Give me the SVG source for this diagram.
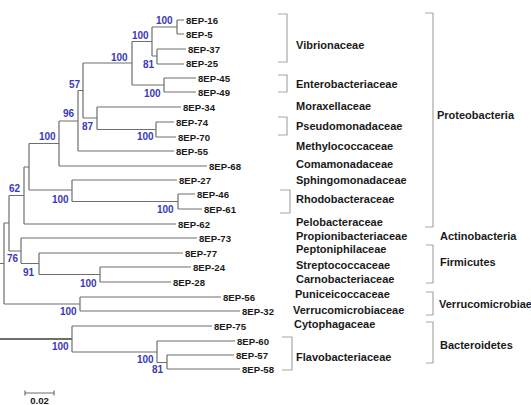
<svg xmlns="http://www.w3.org/2000/svg" width="531" height="405" viewBox="0 0 531 405">
<style>
.t{font-family:"Liberation Sans",Arial,sans-serif;font-weight:bold;font-size:9.6px;fill:#1a1a1a}
.b{font-family:"Liberation Sans",Arial,sans-serif;font-weight:bold;font-size:10px;fill:#3a3ab8}
.f{font-family:"Liberation Sans",Arial,sans-serif;font-weight:bold;font-size:11px;fill:#1a1a1a}
.tree{fill:none;stroke:#6e6e6e;stroke-width:1.2}
.br{fill:none;stroke:#a8a8a8;stroke-width:1.2}
</style>
<rect width="531" height="405" fill="#ffffff"/>
<g id="connectors" class="tree">
<path d="M177,20V34M177,20H184M177,34H184"/>
<path d="M157,49V64M157,49H186M157,64H184"/>
<path d="M152,27V56M152,27H177M152,56H157"/>
<path d="M164,78V92M164,78H196M164,92H196"/>
<path d="M132,41.5V85M132,41.5H152M132,85H164"/>
<path d="M83,63V118M83,63H132M83,118H97"/>
<path d="M156,122V137M156,122H174M156,137H176"/>
<path d="M97,107V129.5M97,107H181M97,129.5H156"/>
<path d="M78,90.5V151M78,90.5H83M78,151H174"/>
<path d="M59,121V166M59,121H78M59,166H207"/>
<path d="M178,194V209M178,194H195M178,209H202"/>
<path d="M72,180V201.5M72,180H177M72,201.5H178"/>
<path d="M29,143.5V190M29,143.5H59M29,190H72"/>
<path d="M24,167V224M24,167H29M24,224H176"/>
<path d="M9,195.5V251M9,195.5H24M9,251H21"/>
<path d="M100,267V282M100,267H191M100,282H171"/>
<path d="M39,253V274.5M39,253H183M39,274.5H100"/>
<path d="M21,238V263.5M21,238H197M21,263.5H39"/>
<path d="M80,297V311M80,297H221M80,311H240"/>
<path d="M4,223V304M4,223H9M4,304H80M0,263.5H4"/>
<path d="M167,355V369M167,355H234M167,369H240"/>
<path d="M157,341V362.5M157,341H235M157,362.5H167"/>
<path d="M72,326V352M72,326H212M72,352H157"/>
<path d="M0,339H72" stroke-width="2"/>
</g>
<g id="tips">
<g id="n16"><text class="t" x="186" y="23.5">8EP-16</text></g>
<g id="n5"><text class="t" x="186" y="37.5">8EP-5</text></g>
<g id="n37"><text class="t" x="188" y="52.5">8EP-37</text></g>
<g id="n25"><text class="t" x="186" y="67">8EP-25</text></g>
<g id="n45"><text class="t" x="198" y="81.5">8EP-45</text></g>
<g id="n49"><text class="t" x="198" y="95.5">8EP-49</text></g>
<g id="n34"><text class="t" x="183" y="110.5">8EP-34</text></g>
<g id="n74"><text class="t" x="176" y="125.5">8EP-74</text></g>
<g id="n70"><text class="t" x="178" y="140.5">8EP-70</text></g>
<g id="n55"><text class="t" x="176" y="154.5">8EP-55</text></g>
<g id="n68"><text class="t" x="209" y="169.5">8EP-68</text></g>
<g id="n27"><text class="t" x="179" y="183.5">8EP-27</text></g>
<g id="n46"><text class="t" x="197" y="197.5">8EP-46</text></g>
<g id="n61"><text class="t" x="204" y="212.5">8EP-61</text></g>
<g id="n62"><text class="t" x="178" y="227.5">8EP-62</text></g>
<g id="n73"><text class="t" x="199" y="241.5">8EP-73</text></g>
<g id="n77"><text class="t" x="185" y="256.5">8EP-77</text></g>
<g id="n24"><text class="t" x="193" y="270.5">8EP-24</text></g>
<g id="n28"><text class="t" x="173" y="285.5">8EP-28</text></g>
<g id="n56"><text class="t" x="223" y="300.5">8EP-56</text></g>
<g id="n32"><text class="t" x="242" y="314.5">8EP-32</text></g>
<g id="n75"><text class="t" x="214" y="329.5">8EP-75</text></g>
<g id="n60"><text class="t" x="237" y="344.5">8EP-60</text></g>
<g id="n57"><text class="t" x="236" y="358.5">8EP-57</text></g>
<g id="n58"><text class="t" x="242" y="372.5">8EP-58</text></g>
</g>
<g id="bootstrap">
<text class="b" x="156" y="24">100</text>
<text class="b" x="132" y="39">100</text>
<text class="b" x="143" y="68">81</text>
<text class="b" x="111" y="61">100</text>
<text class="b" x="144" y="97">100</text>
<text class="b" x="69" y="88">57</text>
<text class="b" x="63" y="117">96</text>
<text class="b" x="82" y="130">87</text>
<text class="b" x="137" y="140">100</text>
<text class="b" x="39" y="140">100</text>
<text class="b" x="9" y="192">62</text>
<text class="b" x="52" y="203">100</text>
<text class="b" x="157" y="213">100</text>
<text class="b" x="7" y="262">76</text>
<text class="b" x="23" y="276">91</text>
<text class="b" x="80" y="287">100</text>
<text class="b" x="60" y="315">100</text>
<text class="b" x="52" y="350">100</text>
<text class="b" x="137" y="363">100</text>
<text class="b" x="152" y="373">81</text>
</g>
<g id="brackets" class="br">
<path d="M278,14H287V62H278"/>
<path d="M278,75H287V92H278"/>
<path d="M278,117H287V135H278"/>
<path d="M280,190H290V213H280"/>
<path d="M282,337H292V370H282"/>
<path d="M425,13H433V227H425"/>
<path d="M426,245H433V283H426"/>
<path d="M426,292H433V315H426"/>
<path d="M426,322H433V363H426"/>
</g>
<g id="families">
<g id="fam-vibrio"><text class="f" x="296" y="49">Vibrionaceae</text></g>
<g id="fam-entero"><text class="f" x="296" y="88">Enterobacteriaceae</text></g>
<g id="fam-morax"><text class="f" x="296" y="110">Moraxellaceae</text></g>
<g id="fam-pseudo"><text class="f" x="296" y="130">Pseudomonadaceae</text></g>
<g id="fam-methyl"><text class="f" x="296" y="150">Methylococcaceae</text></g>
<g id="fam-comam"><text class="f" x="296" y="168">Comamonadaceae</text></g>
<g id="fam-sphingo"><text class="f" x="296" y="184">Sphingomonadaceae</text></g>
<g id="fam-rhodo"><text class="f" x="296" y="203">Rhodobacteraceae</text></g>
<g id="fam-pelo"><text class="f" x="296" y="226">Pelobacteraceae</text></g>
<g id="fam-propioni"><text class="f" x="296" y="240">Propionibacteriaceae</text></g>
<g id="fam-pepto"><text class="f" x="296" y="253">Peptoniphilaceae</text></g>
<g id="fam-strepto"><text class="f" x="296" y="269">Streptococcaceae</text></g>
<g id="fam-carno"><text class="f" x="296" y="283">Carnobacteriaceae</text></g>
<g id="fam-punic"><text class="f" x="295" y="298">Puniceicoccaceae</text></g>
<g id="fam-verru"><text class="f" x="293" y="314">Verrucomicrobiaceae</text></g>
<g id="fam-cyto"><text class="f" x="294" y="328">Cytophagaceae</text></g>
<g id="fam-flavo"><text class="f" x="296" y="361">Flavobacteriaceae</text></g>
</g>
<g id="phyla">
<g id="ph-proteo"><text class="f" x="437" y="119">Proteobacteria</text></g>
<g id="ph-actino"><text class="f" x="440" y="240">Actinobacteria</text></g>
<g id="ph-firmi"><text class="f" x="440" y="266">Firmicutes</text></g>
<g id="ph-verru"><text class="f" x="439" y="308" font-size="10.3">Verrucomicrobiae</text></g>
<g id="ph-bacte"><text class="f" x="440" y="349">Bacteroidetes</text></g>
</g>
<g id="scale">
<path class="tree" d="M25,393H54M25,390.5V395.5M54,390.5V395.5"/>
<text class="t" x="39.5" y="404" text-anchor="middle" font-size="7">0.02</text>
</g>
</svg>
